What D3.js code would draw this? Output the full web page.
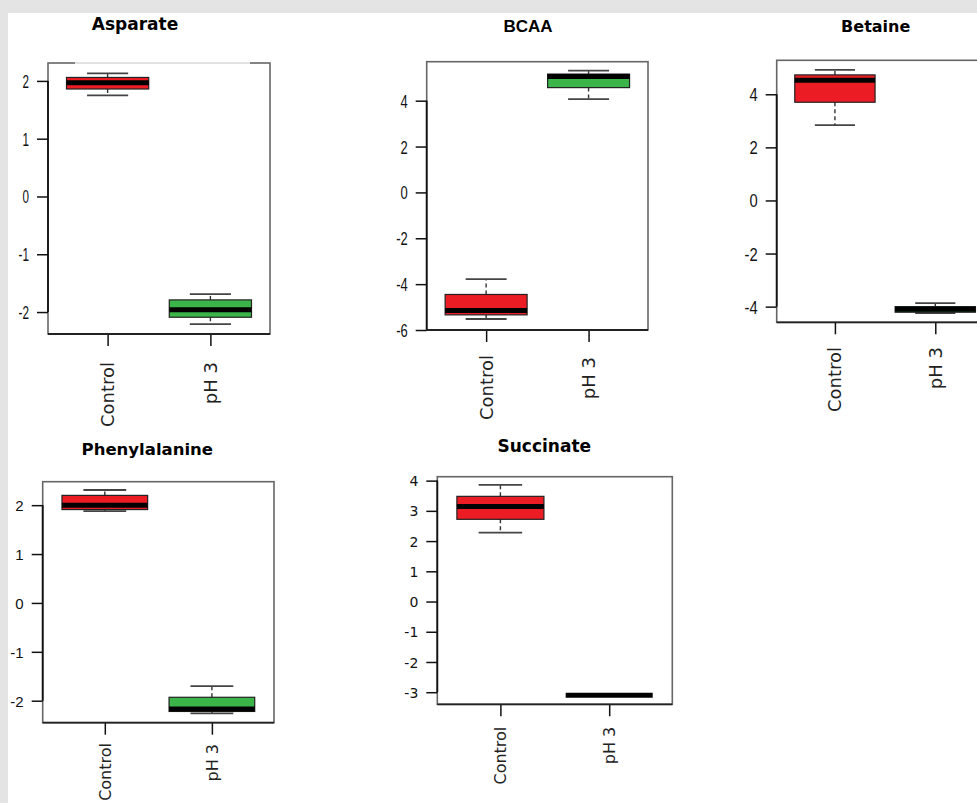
<!DOCTYPE html>
<html><head><meta charset="utf-8">
<script src="https://cdn.jsdelivr.net/npm/d3@7"></script>
<style>body{margin:0;background:#e4e4e4;} svg{display:block}</style>
</head><body>
<svg id="chart" width="977" height="803"></svg>
<script>
const metabolites = ["Asparate","BCAA","Betaine","Phenylalanine","Succinate"];
const groups = ["Control","pH 3"];
const whiskerLow  = [[1.75,-2.21],[-5.52,4.07],[2.84,-4.24],[1.88,-2.26],[2.28,-3.10]];
const quartile1   = [[1.86,-2.09],[-5.34,4.57],[3.70,-4.21],[1.91,-2.22],[2.72,-3.10]];
const medians     = [[1.97,-1.96],[-5.15,5.05],[4.53,-4.10],[2.00,-2.17],[3.14,-3.10]];
const quartile3   = [[2.06,-1.79],[-4.45,5.16],[4.73,-4.00],[2.20,-1.93],[3.48,-3.10]];
const whiskerHigh = [[2.13,-1.69],[-3.78,5.31],[4.92,-3.87],[2.31,-1.70],[3.86,-3.10]];
const yTicks = [[-2,-1,0,1,2],[-6,-4,-2,0,2,4],[-4,-2,0,2,4],[-2,-1,0,1,2],[-3,-2,-1,0,1,2,3,4]];
const yLimits = [[-2.38,2.31],[-6,5.70],[-4.59,5.28],[-2.45,2.48],[-3.40,4.13]];
const boxColors = ["#ec1c24","#3bb54a"];

// layout (positions and styles only)
const panels = [
 {frame:[48,63,270,334], titleXY:[135,30], titleFont:"bold 17px 'DejaVu Sans'", tickFont:"18px 'Liberation Sans'", tickSX:0.65, labelFont:"18px 'DejaVu Sans'", labelTop:[362,362], fadedTop:[75,250]},
 {frame:[426.7,61.7,648,330], titleXY:[528,32], titleFont:"bold 17px 'Liberation Sans'", tickFont:"18px 'Liberation Sans'", tickSX:0.72, labelFont:"18px 'DejaVu Sans'", labelTop:[355,357]},
 {frame:[776.7,60.3,993.5,322.3], titleXY:[875.7,32], titleFont:"bold 16px 'DejaVu Sans'", tickFont:"18px 'Liberation Sans'", tickSX:0.82, labelFont:"18px 'DejaVu Sans'", labelTop:[347,347]},
 {frame:[42.7,481.7,274,722.7], titleXY:[147.3,455], titleFont:"bold 16.5px 'DejaVu Sans'", tickFont:"15px 'Liberation Sans'", tickSX:1, labelFont:"16px 'DejaVu Sans'", labelTop:[743,744]},
 {frame:[437.3,476.7,672.3,704.3], titleXY:[544.3,452.3], titleFont:"bold 17px 'DejaVu Sans'", tickFont:"14px 'DejaVu Sans'", tickSX:1, labelFont:"16px 'DejaVu Sans'", labelTop:[726.7,726.7]}
];

const svg = d3.select("#chart");
svg.append("rect").attr("x",0).attr("y",0).attr("width",977).attr("height",803).attr("fill","#e4e4e4");
svg.append("rect").attr("x",8).attr("y",13).attr("width",969).attr("height",790).attr("fill","#ffffff");

metabolites.forEach((name, i) => {
  const p = panels[i];
  const [L,T,R,B] = p.frame;
  const x = d3.scaleLinear().domain([0.42,2.58]).range([L,R]);
  const y = d3.scaleLinear().domain(yLimits[i]).range([B,T]);
  const g = svg.append("g");

  // frame
  g.append("rect").attr("x",L).attr("y",T).attr("width",R-L).attr("height",B-T)
    .attr("fill","none").attr("stroke","#666").attr("stroke-width",1.6);
  if (p.fadedTop) {
    g.append("line").attr("x1",p.fadedTop[0]).attr("x2",p.fadedTop[1]).attr("y1",T).attr("y2",T)
      .attr("stroke","#e2e2e2").attr("stroke-width",2.2);
  }

  // title
  g.append("text").attr("x",p.titleXY[0]).attr("y",p.titleXY[1]).attr("text-anchor","middle")
    .style("font",p.titleFont).attr("fill","#000").text(name);

  // y axis
  const ya = g.append("g").attr("transform",`translate(${L},0)`)
    .call(d3.axisLeft(y).tickValues(yTicks[i]).tickSize(11).tickSizeOuter(0).tickPadding(8).tickFormat(d=>String(d)));
  ya.select(".domain").remove();
  ya.selectAll(".tick line").attr("stroke","#111").attr("stroke-width",1.5);
  ya.selectAll(".tick text").attr("x",0).attr("dy","0.36em")
    .attr("transform",`translate(-19,0) scale(${p.tickSX},1)`)
    .style("font",p.tickFont).attr("fill","#111");
  const tk = yTicks[i];
  g.append("line").attr("x1",L).attr("x2",L).attr("y1",y(d3.min(tk))).attr("y2",y(d3.max(tk)))
    .attr("stroke","#111").attr("stroke-width",1.8);

  // x axis
  const xa = g.append("g").attr("transform",`translate(0,${B})`)
    .call(d3.axisBottom(x).tickValues([1,2]).tickSize(12).tickSizeOuter(0).tickFormat(""));
  xa.select(".domain").remove();
  xa.selectAll(".tick line").attr("stroke","#111").attr("stroke-width",1.5);
  g.append("line").attr("x1",L).attr("x2",R).attr("y1",B).attr("y2",B)
    .attr("stroke","#222").attr("stroke-width",1.8);

  groups.forEach((grp, j) => {
    const cx = j + 1;
    // labels
    g.append("text").attr("transform",`translate(${x(cx)},${p.labelTop[j]}) rotate(-90)`)
      .attr("text-anchor","end").attr("dy","0.36em").style("font",p.labelFont).attr("fill","#222").text(grp);

    const wl = whiskerLow[i][j], q1 = quartile1[i][j], md = medians[i][j], q3 = quartile3[i][j], wh = whiskerHigh[i][j];
    // whiskers
    g.append("line").attr("x1",x(cx)).attr("x2",x(cx)).attr("y1",y(q3)).attr("y2",y(wh))
      .attr("stroke","#333").attr("stroke-width",1.4).attr("stroke-dasharray","4,3");
    g.append("line").attr("x1",x(cx)).attr("x2",x(cx)).attr("y1",y(q1)).attr("y2",y(wl))
      .attr("stroke","#333").attr("stroke-width",1.4).attr("stroke-dasharray","4,3");
    [wh, wl].forEach(v => {
      g.append("line").attr("x1",x(cx-0.2)).attr("x2",x(cx+0.2)).attr("y1",y(v)).attr("y2",y(v))
        .attr("stroke","#444").attr("stroke-width",1.8);
    });
    // box
    if (q3 > q1) {
      g.append("rect").attr("x",x(cx-0.4)).attr("width",x(cx+0.4)-x(cx-0.4))
        .attr("y",y(q3)).attr("height",y(q1)-y(q3))
        .attr("fill",boxColors[j]).attr("stroke","#222").attr("stroke-width",1.2);
    }
    // median
    g.append("line").attr("x1",x(cx-0.4)).attr("x2",x(cx+0.4)).attr("y1",y(md)).attr("y2",y(md))
      .attr("stroke","#000").attr("stroke-width",5);
  });
});
</script>
</body></html>
